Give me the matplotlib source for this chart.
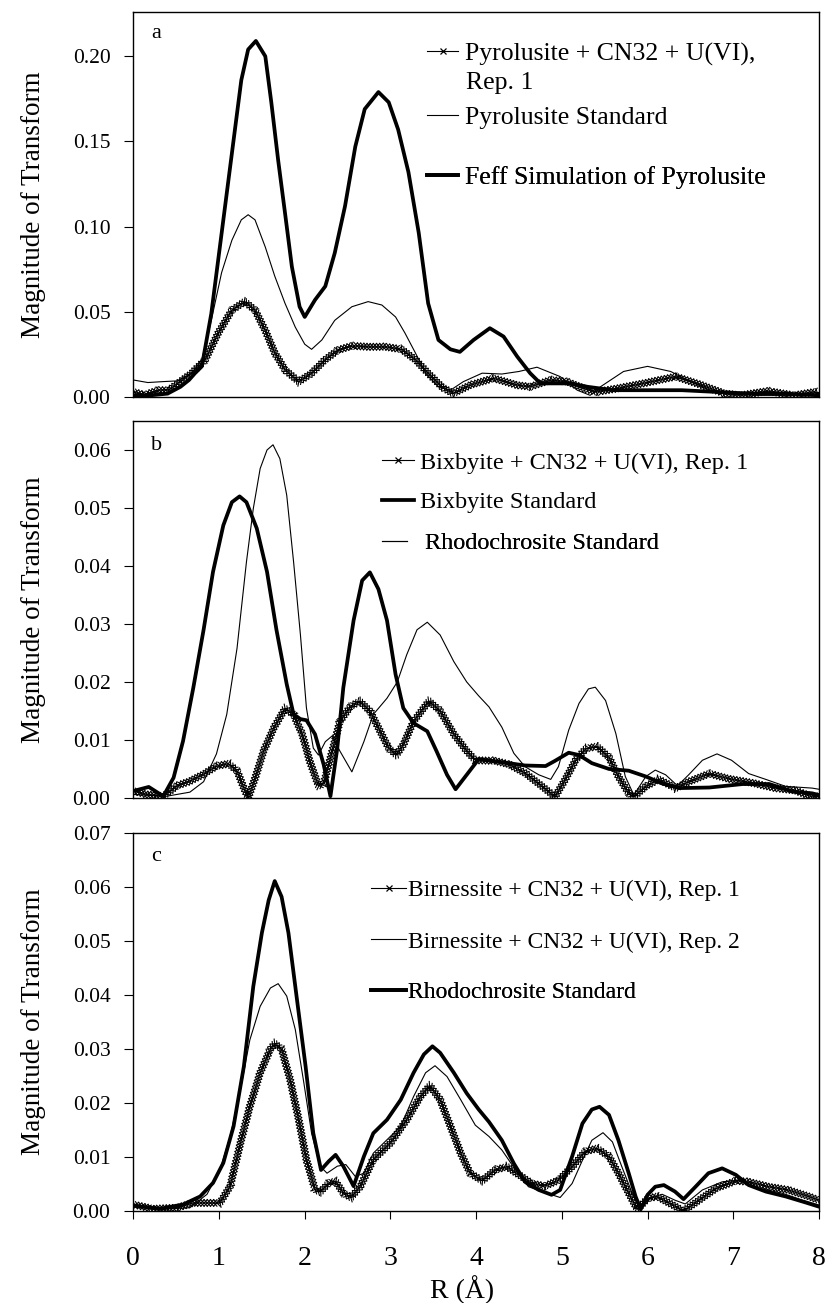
import matplotlib
matplotlib.use("Agg")
import matplotlib.pyplot as plt
import matplotlib.patheffects as pe
from matplotlib.lines import Line2D

plt.rcParams['font.family'] = ['Liberation Serif', 'DejaVu Serif']

# ---- panel a : pyrolusite ----
r_pyro_rep1 = [0, 0.13, 0.29, 0.41, 0.52, 0.68, 0.84, 0.99, 1.15, 1.30, 1.42, 1.54, 1.65, 1.77,
               1.93, 2.08, 2.24, 2.39, 2.55, 2.74, 2.94, 3.13, 3.29, 3.44, 3.60, 3.73, 3.93, 4.20,
               4.48, 4.63, 4.87, 5.06, 5.26, 5.41, 5.64, 5.95, 6.33, 6.63, 6.90, 7.09, 7.40, 7.71,
               7.95, 8.0]
m_pyro_rep1 = [0.003, 0.0012, 0.004, 0.004, 0.008, 0.014, 0.022, 0.0375, 0.051, 0.056, 0.051, 0.039,
               0.026, 0.016, 0.009, 0.014, 0.022, 0.0276, 0.030, 0.0295, 0.0295, 0.028, 0.022, 0.014,
               0.006, 0.002, 0.007, 0.011, 0.007, 0.006, 0.010, 0.009, 0.005, 0.003, 0.005, 0.008,
               0.012, 0.007, 0.002, 0.001, 0.0035, 0.001, 0.003, 0.002]

r_pyro_std = [0, 0.17, 0.33, 0.52, 0.68, 0.80, 0.91, 1.03, 1.15, 1.26, 1.34, 1.42, 1.54, 1.65, 1.77,
              1.89, 2.00, 2.08, 2.20, 2.35, 2.55, 2.74, 2.90, 3.06, 3.17, 3.29, 3.41, 3.56, 3.70,
              3.85, 4.07, 4.30, 4.50, 4.71, 4.98, 5.18, 5.33, 5.45, 5.72, 6.00, 6.27, 6.50, 6.73,
              6.93, 7.3, 7.7, 8.0]
m_pyro_std = [0.010, 0.0085, 0.009, 0.0095, 0.014, 0.022, 0.045, 0.073, 0.092, 0.104, 0.107, 0.104,
              0.088, 0.071, 0.055, 0.041, 0.031, 0.028, 0.0335, 0.045, 0.053, 0.056, 0.054, 0.047,
              0.0375, 0.026, 0.014, 0.006, 0.004, 0.009, 0.014, 0.0135, 0.015, 0.0175, 0.012, 0.004,
              0.001, 0.006, 0.015, 0.018, 0.015, 0.009, 0.004, 0.002, 0.001, 0.001, 0.001]

r_feff = [0, 0.2, 0.4, 0.55, 0.65, 0.72, 0.80, 0.91, 1.03, 1.15, 1.26, 1.34, 1.43, 1.54, 1.61, 1.69,
          1.77, 1.85, 1.94, 2.00, 2.12, 2.24, 2.35, 2.47, 2.59, 2.70, 2.86, 2.98, 3.09, 3.21, 3.33,
          3.44, 3.56, 3.70, 3.81, 3.97, 4.16, 4.32, 4.48, 4.63, 4.75, 4.87, 5.1, 5.3, 5.6, 6.0, 6.4,
          6.8, 7.2, 7.6, 8.0]
m_feff = [0.001, 0.001, 0.002, 0.006, 0.010, 0.014, 0.018, 0.049, 0.096, 0.143, 0.186, 0.204, 0.209,
          0.200, 0.173, 0.139, 0.108, 0.0765, 0.053, 0.047, 0.057, 0.065, 0.0845, 0.112, 0.147, 0.169,
          0.179, 0.173, 0.157, 0.132, 0.0964, 0.055, 0.0335, 0.028, 0.0265, 0.0335, 0.0404, 0.0355,
          0.0237, 0.014, 0.008, 0.008, 0.008, 0.006, 0.004, 0.004, 0.004, 0.003, 0.002, 0.002, 0.001]

# ---- panel b : bixbyite ----
r_bix_rep1 = [0, 0.16, 0.35, 0.51, 0.66, 0.82, 0.97, 1.11, 1.21, 1.29, 1.34, 1.42, 1.52, 1.64, 1.77,
              1.87, 1.97, 2.06, 2.16, 2.22, 2.30, 2.41, 2.53, 2.64, 2.76, 2.88, 2.98, 3.07, 3.15,
              3.27, 3.45, 3.58, 3.74, 3.89, 3.99, 4.22, 4.38, 4.57, 4.77, 4.92, 5.04, 5.16, 5.28,
              5.41, 5.55, 5.66, 5.78, 5.84, 5.98, 6.13, 6.33, 6.48, 6.72, 6.95, 7.22, 7.49, 7.72,
              7.92, 8.0]
m_bix_rep1 = [0.0012, 0.0006, 0.0003, 0.0021, 0.0029, 0.0041, 0.0055, 0.0059, 0.0047, 0.0017, 0.0,
              0.0034, 0.0081, 0.0121, 0.0154, 0.0144, 0.011, 0.0063, 0.0021, 0.0024, 0.0069, 0.0132,
              0.0157, 0.0167, 0.015, 0.0115, 0.0086, 0.0074, 0.0092, 0.0132, 0.0167, 0.015, 0.011,
              0.0081, 0.0065, 0.0064, 0.0058, 0.0043, 0.002, 0.0002, 0.0032, 0.0065, 0.0085, 0.0089,
              0.007, 0.0037, 0.0008, 0.0002, 0.002, 0.0032, 0.0017, 0.0028, 0.0042, 0.0033, 0.0026,
              0.0017, 0.0013, 0.0002, 0.0003]

r_bix_std = [0, 0.18, 0.35, 0.47, 0.58, 0.70, 0.82, 0.93, 1.05, 1.15, 1.24, 1.32, 1.44, 1.56, 1.67,
             1.79, 1.87, 1.95, 2.02, 2.12, 2.22, 2.30, 2.38, 2.45, 2.57, 2.67, 2.76, 2.86, 2.96, 3.06,
             3.15, 3.27, 3.43, 3.54, 3.66, 3.76, 3.89, 4.03, 4.18, 4.38, 4.57, 4.81, 4.92, 5.08,
             5.20, 5.35, 5.55, 5.78, 5.98, 6.17, 6.37, 6.72, 7.11, 7.42, 7.69, 7.92, 8.0]
m_bix_std = [0.0012, 0.0019, 0.0003, 0.0035, 0.0098, 0.019, 0.029, 0.039, 0.047, 0.051, 0.052, 0.051,
             0.0465, 0.039, 0.029, 0.0196, 0.0144, 0.0136, 0.0134, 0.011, 0.0058, 0.0003, 0.0086,
             0.019, 0.0306, 0.0375, 0.0389, 0.036, 0.0306, 0.0213, 0.0155, 0.0129, 0.0115, 0.008,
             0.004, 0.0015, 0.004, 0.0067, 0.0064, 0.006, 0.0056, 0.0055, 0.0064, 0.0078, 0.0074,
             0.006, 0.005, 0.0047, 0.0037, 0.0025, 0.0017, 0.0018, 0.0024, 0.0024, 0.0011, 0.0008,
             0.0005]

r_rhodo_b = [0, 0.39, 0.66, 0.82, 0.97, 1.09, 1.21, 1.32, 1.40, 1.48, 1.56, 1.63, 1.71, 1.79, 1.87,
             1.95, 2.02, 2.10, 2.16, 2.24, 2.32, 2.41, 2.55, 2.69, 2.80, 2.96, 3.08, 3.19, 3.31,
             3.43, 3.58, 3.74, 3.89, 4.03, 4.15, 4.30, 4.44, 4.57, 4.73, 4.87, 4.96, 5.08, 5.20,
             5.31, 5.39, 5.51, 5.63, 5.74, 5.84, 5.98, 6.09, 6.21, 6.35, 6.48, 6.64, 6.81, 6.98,
             7.18, 7.38, 7.61, 7.92, 8.0]
m_rhodo_b = [0.0006, 0.0003, 0.001, 0.0028, 0.0076, 0.0144, 0.0258, 0.0407, 0.0499, 0.0568, 0.060,
             0.0609, 0.0585, 0.0522, 0.0407, 0.0281, 0.0155, 0.0086, 0.0074, 0.0097, 0.0107, 0.0081,
             0.0045, 0.0097, 0.0144, 0.0172, 0.020, 0.0247, 0.029, 0.0303, 0.0281, 0.0235, 0.020,
             0.0176, 0.0157, 0.0122, 0.0077, 0.0054, 0.004, 0.0032, 0.0054, 0.0117, 0.0163, 0.0188,
             0.0191, 0.0168, 0.0111, 0.0037, 0.0005, 0.0037, 0.0048, 0.004, 0.0021, 0.004, 0.0065,
             0.0076, 0.0065, 0.0042, 0.0032, 0.002, 0.0017, 0.0015]

# ---- panel c : birnessite ----
r_bir_rep1 = [0, 0.23, 0.51, 0.70, 1.01, 1.13, 1.25, 1.36, 1.48, 1.60, 1.65, 1.73, 1.83, 1.93, 2.02,
              2.12, 2.18, 2.28, 2.36, 2.45, 2.54, 2.65, 2.80, 3.00, 3.19, 3.35, 3.46, 3.58, 3.70,
              3.82, 3.93, 4.07, 4.22, 4.36, 4.50, 4.65, 4.80, 4.96, 5.12, 5.27, 5.41, 5.55, 5.66,
              5.78, 5.88, 6.00, 6.11, 6.25, 6.42, 6.60, 6.80, 7.03, 7.18, 7.41, 7.64, 7.88, 8.0]
m_bir_rep1 = [0.0012, 0.0004, 0.0006, 0.0015, 0.0015, 0.0046, 0.0126, 0.0194, 0.0256, 0.0300, 0.0310,
              0.0300, 0.0243, 0.0169, 0.0095, 0.004, 0.0035, 0.0052, 0.0055, 0.0033, 0.0025, 0.0046,
              0.0095, 0.0126, 0.0169, 0.0212, 0.0232, 0.0206, 0.0157, 0.0107, 0.0070, 0.0056, 0.0076,
              0.0082, 0.0067, 0.0051, 0.0046, 0.0057, 0.0082, 0.011, 0.0116, 0.0101, 0.007, 0.0033,
              0.0003, 0.0023, 0.0027, 0.0015, 0.0, 0.002, 0.0042, 0.0056, 0.0054, 0.0045, 0.0039,
              0.0027, 0.002]

r_bir_rep2 = [0, 0.39, 0.66, 0.86, 1.01, 1.13, 1.25, 1.36, 1.48, 1.60, 1.69, 1.79, 1.89, 1.99, 2.08,
              2.18, 2.26, 2.38, 2.48, 2.59, 2.69, 2.80, 2.96, 3.12, 3.27, 3.41, 3.52, 3.66, 3.82,
              3.99, 4.15, 4.30, 4.46, 4.61, 4.77, 4.98, 5.12, 5.24, 5.35, 5.48, 5.59, 5.70, 5.82,
              5.92, 6.02, 6.17, 6.32, 6.44, 6.64, 6.87, 7.06, 7.30, 7.57, 7.81, 8.0]
m_bir_rep2 = [0.001, 0.0004, 0.0006, 0.0031, 0.0076, 0.0138, 0.0225, 0.0317, 0.0379, 0.0413, 0.0421,
              0.0398, 0.0336, 0.0237, 0.0144, 0.0083, 0.007, 0.0083, 0.0086, 0.0064, 0.007, 0.0107,
              0.0132, 0.0157, 0.0212, 0.0256, 0.0269, 0.0249, 0.0206, 0.0159, 0.0138, 0.0113, 0.0076,
              0.0045, 0.0036, 0.0025, 0.0051, 0.0094, 0.0131, 0.0145, 0.0128, 0.0082, 0.0033, 0.0003,
              0.0023, 0.0031, 0.002, 0.0013, 0.0039, 0.0054, 0.0057, 0.0042, 0.0033, 0.002, 0.0011]

r_rhodo_c = [0, 0.31, 0.58, 0.78, 0.93, 1.05, 1.17, 1.29, 1.40, 1.50, 1.58, 1.65, 1.73, 1.81, 1.91,
             2.01, 2.10, 2.19, 2.28, 2.36, 2.45, 2.57, 2.69, 2.80, 2.96, 3.12, 3.27, 3.39, 3.49,
             3.58, 3.74, 3.89, 4.03, 4.15, 4.30, 4.44, 4.57, 4.73, 4.88, 4.98, 5.12, 5.24, 5.35,
             5.44, 5.55, 5.66, 5.78, 5.86, 5.92, 6.00, 6.09, 6.19, 6.32, 6.42, 6.56, 6.71, 6.87,
             7.03, 7.18, 7.38, 7.61, 7.84, 8.0]
m_rhodo_c = [0.001, 0.0004, 0.0012, 0.0027, 0.0052, 0.0089, 0.0157, 0.0268, 0.0416, 0.0515, 0.0576,
             0.0611, 0.0582, 0.0515, 0.0391, 0.0268, 0.0144, 0.0076, 0.0092, 0.0104, 0.0083, 0.0046,
             0.0101, 0.0144, 0.0169, 0.0206, 0.0256, 0.029, 0.0305, 0.0293, 0.0256, 0.0218, 0.0188,
             0.0165, 0.0131, 0.0088, 0.0054, 0.0039, 0.003, 0.0039, 0.0101, 0.0162, 0.0188, 0.0193,
             0.0178, 0.0131, 0.007, 0.0027, 0.0003, 0.003, 0.0045, 0.0048, 0.0036, 0.0022, 0.0045,
             0.007, 0.0079, 0.0067, 0.0048, 0.0036, 0.0027, 0.0016, 0.0008]

THIN = 0.8
THICK = 2.7

# crossed-marker look of the "Rep." series: little x's all along the line
cross = [pe.TickedStroke(spacing=2.3, angle=a, length=1.45) for a in (45, -135, 135, -45)] + [pe.Normal()]


def draw_thin(ax, r, m):
    ax.plot(r, m, color='black', lw=THIN, solid_joinstyle='round')


def draw_thick(ax, r, m):
    ax.plot(r, m, color='black', lw=THICK, solid_joinstyle='round', solid_capstyle='round')


def draw_cross(ax, r, m):
    ax.plot(r, m, color='black', lw=THIN, path_effects=cross)


h_cross = Line2D([], [], color='black', lw=THIN, marker='x', markersize=5, markeredgewidth=0.9)
h_thin = Line2D([], [], color='black', lw=THIN)
h_thick = Line2D([], [], color='black', lw=THICK)


def add_key(ax, handle, label, x, y, size, hl, pad):
    leg = ax.legend([handle], [label], loc='center left', bbox_to_anchor=(x, y),
                    frameon=False, prop={'size': size}, handlelength=hl, handletextpad=pad,
                    borderpad=0, borderaxespad=0, numpoints=1)
    ax.add_artist(leg)


fig = plt.figure(figsize=(8.27, 13.03), dpi=100)
L, W = 0.1612, 0.8291
ax_a = fig.add_axes([L, 0.6953, W, 0.2955])
ax_b = fig.add_axes([L, 0.3876, W, 0.2893])
ax_c = fig.add_axes([L, 0.0706, W, 0.2901])

# panel a
draw_cross(ax_a, r_pyro_rep1, m_pyro_rep1)
draw_thin(ax_a, r_pyro_std, m_pyro_std)
draw_thick(ax_a, r_feff, m_feff)
ax_a.set_ylim(0, 0.226)
ax_a.set_yticks([0, 0.05, 0.10, 0.15, 0.20])
add_key(ax_a, h_cross, 'Pyrolusite + CN32 + U(VI),', 0.429, 0.891, 18.5, 1.2, 0.27)
ax_a.text(0.4845, 0.816, 'Rep. 1', transform=ax_a.transAxes, fontsize=18.5, va='center', ha='left')
add_key(ax_a, h_thin, 'Pyrolusite Standard', 0.429, 0.727, 18.5, 1.2, 0.27)
add_key(ax_a, h_thick, 'Feff Simulation of Pyrolusite', 0.429, 0.569, 18.5, 1.2, 0.27)

# panel b
draw_cross(ax_b, r_bix_rep1, m_bix_rep1)
draw_thick(ax_b, r_bix_std, m_bix_std)
draw_thin(ax_b, r_rhodo_b, m_rhodo_b)
ax_b.set_ylim(0, 0.065)
ax_b.set_yticks([0, 0.01, 0.02, 0.03, 0.04, 0.05, 0.06])
add_key(ax_b, h_cross, 'Bixbyite + CN32 + U(VI), Rep. 1', 0.363, 0.889, 17.5, 1.32, 0.22)
add_key(ax_b, h_thick, 'Bixbyite Standard', 0.363, 0.785, 17.5, 1.32, 0.22)
add_key(ax_b, h_thin, 'Rhodochrosite Standard', 0.363, 0.676, 17.5, 1.0, 0.74)

# panel c
draw_cross(ax_c, r_bir_rep1, m_bir_rep1)
draw_thin(ax_c, r_bir_rep2, m_bir_rep2)
draw_thick(ax_c, r_rhodo_c, m_rhodo_c)
ax_c.set_ylim(0, 0.07)
ax_c.set_yticks([0, 0.01, 0.02, 0.03, 0.04, 0.05, 0.06, 0.07])
add_key(ax_c, h_cross, 'Birnessite + CN32 + U(VI), Rep. 1', 0.347, 0.849, 17, 1.48, 0.06)
add_key(ax_c, h_thin, 'Birnessite + CN32 + U(VI), Rep. 2', 0.347, 0.712, 17, 1.48, 0.06)
add_key(ax_c, h_thick, 'Rhodochrosite Standard', 0.347, 0.579, 17, 1.48, 0.06)

for ax, letter, ly in ((ax_a, 'a', 0.945), (ax_b, 'b', 0.934), (ax_c, 'c', 0.939)):
    ax.set_xlim(0, 8)
    ax.text(0.026, ly, letter, transform=ax.transAxes, fontsize=16, va='center', ha='left')
    ax.yaxis.set_major_formatter(matplotlib.ticker.FormatStrFormatter('%.2f'))
    ax.tick_params(axis='y', direction='out', length=6.5, width=0.8, pad=10, labelsize=15.5)
    for s in ax.spines.values():
        s.set_linewidth(1.0)
    ax.set_ylabel('Magnitude of Transform', fontsize=19.5)
    ax.yaxis.set_label_coords(-0.128, 0.5)

for ax in (ax_a, ax_b):
    ax.tick_params(axis='x', bottom=False, labelbottom=False)

ax_c.set_xticks(range(9))
ax_c.tick_params(axis='x', direction='out', length=6, width=0.8, pad=19, labelsize=20)
ax_c.set_xlabel('R (Å)', fontsize=20)
ax_c.xaxis.set_label_coords(0.479, -0.17)

fig.savefig('out.png', dpi=100)
